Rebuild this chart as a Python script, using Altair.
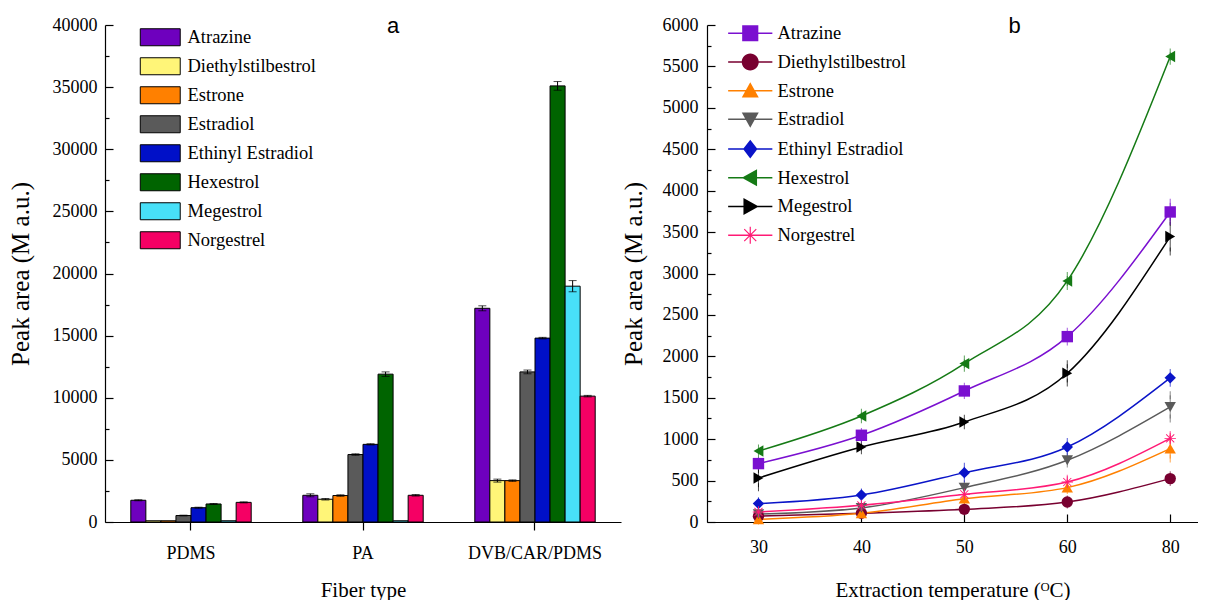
import math
import altair as alt
import pandas as pd

SERIF = "Liberation Serif"
SANS = "Liberation Sans"

# ---------------- data: panel a ----------------
compounds = ["Atrazine", "Diethylstilbestrol", "Estrone", "Estradiol",
             "Ethinyl Estradiol", "Hexestrol", "Megestrol", "Norgestrel"]
fibers = ["PDMS", "PA", "DVB/CAR/PDMS"]

area_pdms = [1750, 100, 100, 520, 1150, 1450, 100, 1580]
area_pa = [2150, 1830, 2130, 5430, 6250, 11900, 100, 2150]
area_dvb = [17200, 3330, 3330, 12080, 14800, 35100, 18980, 10130]
err_pdms = [40, 0, 0, 30, 40, 40, 0, 40]
err_pa = [120, 60, 60, 60, 50, 180, 0, 60]
err_dvb = [200, 120, 60, 150, 60, 350, 450, 60]

bar_colors = ["#6E00BE", "#FFF578", "#FF8000", "#5A5A5A",
              "#0010C8", "#006400", "#48E0F8", "#F50064"]

# ---------------- data: panel b ----------------
temps = [30, 40, 50, 60, 80]
t_atrazine = [705, 1047, 1582, 2238, 3743]
t_diethylstilbestrol = [70, 105, 153, 241, 524]
t_estrone = [33, 105, 282, 415, 886]
t_estradiol = [95, 170, 415, 745, 1389]
t_ethinyl = [222, 326, 596, 905, 1740]
t_hexestrol = [857, 1280, 1912, 2910, 5619]
t_megestrol = [531, 905, 1207, 1795, 3446]
t_norgestrel = [121, 201, 334, 483, 1010]

e_atrazine = [30, 40, 50, 60, 110]
e_diethylstilbestrol = [20, 20, 25, 30, 40]
e_estrone = [15, 20, 30, 30, 120]
e_estradiol = [20, 25, 40, 40, 140]
e_ethinyl = [30, 30, 70, 60, 60]
e_hexestrol = [30, 40, 50, 60, 50]
e_megestrol = [110, 40, 40, 110, 180]
e_norgestrel = [20, 20, 30, 40, 40]

line_colors = ["#7A10D0", "#780030", "#FF8000", "#5A5A5A",
               "#0A14C8", "#157A15", "#000000", "#FF1A75"]

# ---------------- tables ----------------
rows_a = []
for fiber, vals, errs in [(fibers[0], area_pdms, err_pdms),
                          (fibers[1], area_pa, err_pa),
                          (fibers[2], area_dvb, err_dvb)]:
    for c, v, e in zip(compounds, vals, errs):
        rows_a.append({"fiber": fiber, "compound": c, "value": v, "err": e,
                       "lo": v - e, "hi": v + e})
df_a = pd.DataFrame(rows_a)
df_a_err = df_a[df_a["err"] > 0]

series_b = [t_atrazine, t_diethylstilbestrol, t_estrone, t_estradiol,
            t_ethinyl, t_hexestrol, t_megestrol, t_norgestrel]
errs_b = [e_atrazine, e_diethylstilbestrol, e_estrone, e_estradiol,
          e_ethinyl, e_hexestrol, e_megestrol, e_norgestrel]
rows_b = []
for c, vals, errs in zip(compounds, series_b, errs_b):
    for i, (t, v, e) in enumerate(zip(temps, vals, errs)):
        rows_b.append({"compound": c, "pos": i, "temp": t, "value": v,
                       "lo": v - e, "hi": v + e})
df_b = pd.DataFrame(rows_b)


# ---------------- marker shapes ----------------
def rect(cx, cy, hw, hh):
    return f"M{cx-hw:.3f},{cy-hh:.3f}H{cx+hw:.3f}V{cy+hh:.3f}H{cx-hw:.3f}Z"


def star(t):
    parts = []
    for a in (0, 45, 90, 135):
        c, s = math.cos(math.radians(a)), math.sin(math.radians(a))
        pts = [(-c + s * t, -s - c * t), (c + s * t, s - c * t),
               (c - s * t, s + c * t), (-c - s * t, -s + c * t)]
        parts.append("M" + "L".join(f"{x:.3f},{y:.3f}" for x, y in pts) + "Z")
    return "".join(parts)


STAR = star(0.08)
plot_shapes = ["square", "circle", "triangle-up", "triangle-down", "diamond",
               "triangle-left", "triangle-right", STAR]
marker_paths = [rect(0, 0, 0.95, 0.95),
                "M-1,0A1,1 0 1,1 1,0A1,1 0 1,1 -1,0Z",
                "M0,-1L1,0.8H-1Z",
                "M0,1L-1,-0.8H1Z",
                "M0,-1.1L0.85,0L0,1.1L-0.85,0Z",
                "M-1,0L0.8,-1V1Z",
                "M1,0L-0.8,1V-1Z",
                star(0.07)]
legend_line = rect(0, 0, 2.6, 0.09)
legend_shapes = [legend_line + p for p in marker_paths]

AX = dict(labelFont=SERIF, titleFont=SERIF, labelColor="black",
          titleColor="black", titleFontWeight="normal", domainColor="black",
          tickColor="black", domainWidth=1.2, tickWidth=1.2, grid=False,
          labelFontSize=18)


def label_axis(**kw):
    d = dict(AX)
    d.update(kw)
    return alt.Axis(**d)


def tick_axis(orient, offset, values, size):
    return alt.Axis(orient=orient, offset=offset, values=values, labels=False,
                    domain=False, ticks=True, tickSize=size, title=None,
                    grid=False, tickColor="black", tickWidth=1.2,
                    labelFont=SERIF, titleFont=SERIF)


# ---------------- panel a ----------------
W_A, H = 516, 497
W_B = 491

y_dom_a = alt.Scale(domain=[0, 40000], nice=False, zero=True)
x_a_scale = alt.Scale(domain=fibers, paddingInner=0.3, paddingOuter=0.15)
xo_scale = alt.Scale(domain=compounds, paddingInner=0, paddingOuter=0)

x_a_axis = label_axis(orient="bottom", labelAngle=0, ticks=True, tickSize=8,
                      labelPadding=14, title="Fiber type", titleFontSize=21,
                      titlePadding=17, domain=True)
x_a = alt.X("fiber:N", scale=x_a_scale, axis=x_a_axis)
xo = alt.XOffset("compound:N", scale=xo_scale)

bars = alt.Chart(df_a).mark_bar(stroke="black", strokeWidth=1).encode(
    x=x_a,
    xOffset=xo,
    y=alt.Y("value:Q", scale=y_dom_a,
            axis=label_axis(orient="left", ticks=False, labelPadding=8,
                            values=list(range(0, 40001, 5000)), format="d",
                            title="Peak area (M a.u.)", titleFontSize=25,
                            titlePadding=19, domain=True)),
    color=alt.Color("compound:N",
                    scale=alt.Scale(domain=compounds, range=bar_colors),
                    legend=alt.Legend(title=None, orient="none", legendX=46,
                                      legendY=3, symbolType=rect(0, 0, 2.35, 1),
                                      symbolSize=289, symbolStrokeColor="black",
                                      symbolStrokeWidth=1, symbolOpacity=1,
                                      labelFont=SERIF, labelFontSize=18.5,
                                      labelOffset=18, rowPadding=7,
                                      padding=0, labelColor="black")),
)

err_rule_a = alt.Chart(df_a_err).mark_rule(color="black", strokeWidth=1).encode(
    x=x_a,
    xOffset=xo,
    y=alt.Y("lo:Q", scale=y_dom_a,
            axis=tick_axis("right", -W_A, list(range(0, 40001, 5000)), 8)),
    y2="hi:Q",
)
cap_hi_a = alt.Chart(df_a_err).mark_tick(color="black", thickness=1, size=8).encode(
    x=x_a,
    xOffset=xo,
    y=alt.Y("hi:Q", scale=y_dom_a,
            axis=tick_axis("right", -W_A, list(range(2500, 40000, 5000)), 4)),
)
cap_lo_a = alt.Chart(df_a_err).mark_tick(color="black", thickness=1, size=8).encode(
    x=x_a,
    xOffset=xo,
    y=alt.Y("lo:Q", scale=y_dom_a, axis=None),
)

panel_a = alt.layer(bars, err_rule_a, cap_hi_a, cap_lo_a).resolve_axis(
    y="independent").properties(
    width=W_A, height=H,
    title=alt.Title("a", font=SANS, fontSize=22, fontWeight="normal",
                    anchor="middle", dx=30, dy=35, offset=3, baseline="middle",
                    frame="group", orient="top", color="black"))

# ---------------- panel b ----------------
y_dom_b = alt.Scale(domain=[0, 6000], nice=False, zero=True)
x_b_scale = alt.Scale(domain=[-0.5, 4.27], nice=False, zero=False)
label_expr = "[" + ",".join(f"'{t}'" for t in temps) + "][datum.value]"

line_color = alt.Color("compound:N",
                       scale=alt.Scale(domain=compounds, range=line_colors),
                       legend=None)

lines = alt.Chart(df_b).mark_line(interpolate="monotone", strokeWidth=1.5).encode(
    x=alt.X("pos:Q", scale=x_b_scale,
            axis=label_axis(orient="bottom", values=list(range(len(temps))),
                            labelExpr=label_expr, ticks=False, labelPadding=16,
                            title="Extraction temperature (\u1D3CC)",
                            titleFontSize=21, titlePadding=23, domain=True)),
    y=alt.Y("value:Q", scale=y_dom_b,
            axis=label_axis(orient="left", ticks=False, labelPadding=9,
                            values=list(range(0, 6001, 500)), format="d",
                            title="Peak area (M a.u.)", titleFontSize=25,
                            titlePadding=16, domain=True)),
    color=line_color,
    detail="compound:N",
)

err_rule_b = alt.Chart(df_b).mark_rule(strokeWidth=1, opacity=0.7).encode(
    x=alt.X("pos:Q", scale=x_b_scale,
            axis=tick_axis("top", -H, list(range(len(temps))), 8)),
    y=alt.Y("lo:Q", scale=y_dom_b,
            axis=tick_axis("right", -W_B, list(range(0, 6001, 500)), 8)),
    y2="hi:Q",
    color=line_color,
)
cap_hi_b = alt.Chart(df_b).mark_tick(thickness=1, size=8, opacity=0.7).encode(
    x=alt.X("pos:Q", scale=x_b_scale, axis=None),
    y=alt.Y("hi:Q", scale=y_dom_b,
            axis=tick_axis("right", -W_B, list(range(250, 6000, 500)), 4)),
    color=line_color,
)
cap_lo_b = alt.Chart(df_b).mark_tick(thickness=1, size=8, opacity=0.7).encode(
    x=alt.X("pos:Q", scale=x_b_scale, axis=None),
    y=alt.Y("lo:Q", scale=y_dom_b, axis=None),
    color=line_color,
)
points = alt.Chart(df_b).mark_point(filled=True, size=130, opacity=1).encode(
    x=alt.X("pos:Q", scale=x_b_scale, axis=None),
    y=alt.Y("value:Q", scale=y_dom_b, axis=None),
    color=line_color,
    shape=alt.Shape("compound:N",
                    scale=alt.Scale(domain=compounds, range=plot_shapes),
                    legend=None),
)
legend_b = alt.Legend(title=None, orient="none", legendX=34, legendY=-1,
                      symbolSize=289, symbolStrokeWidth=0, symbolOpacity=1,
                      labelFont=SERIF, labelFontSize=18.5, labelOffset=18,
                      rowPadding=9.7, padding=0, labelColor="black")
legend_layer = alt.Chart(df_b).mark_point(filled=True, size=10, opacity=0).encode(
    x=alt.X("pos:Q", scale=x_b_scale, axis=None),
    y=alt.Y("value:Q", scale=y_dom_b, axis=None),
    color=alt.Color("compound:N",
                    scale=alt.Scale(domain=compounds, range=line_colors),
                    legend=legend_b),
    shape=alt.Shape("compound:N",
                    scale=alt.Scale(domain=compounds, range=legend_shapes),
                    legend=legend_b),
)

panel_b = alt.layer(lines, err_rule_b, cap_hi_b, cap_lo_b, points,
                    legend_layer).resolve_scale(
    color="independent", shape="independent").resolve_axis(
    x="independent", y="independent").properties(
    width=W_B, height=H,
    title=alt.Title("b", font=SANS, fontSize=22, fontWeight="normal",
                    anchor="middle", dx=62, dy=35, offset=3, baseline="middle",
                    frame="group", orient="top", color="black"))

chart = alt.hconcat(panel_a, panel_b, spacing=0).resolve_scale(
    color="independent", shape="independent", x="independent",
    y="independent").properties(
    padding={"left": 0, "top": 7, "right": 0, "bottom": 0},
    background="white",
).configure(font=SERIF).configure_view(stroke=None)

chart.save("out.html", embed_options={"renderer": "svg", "actions": False})
